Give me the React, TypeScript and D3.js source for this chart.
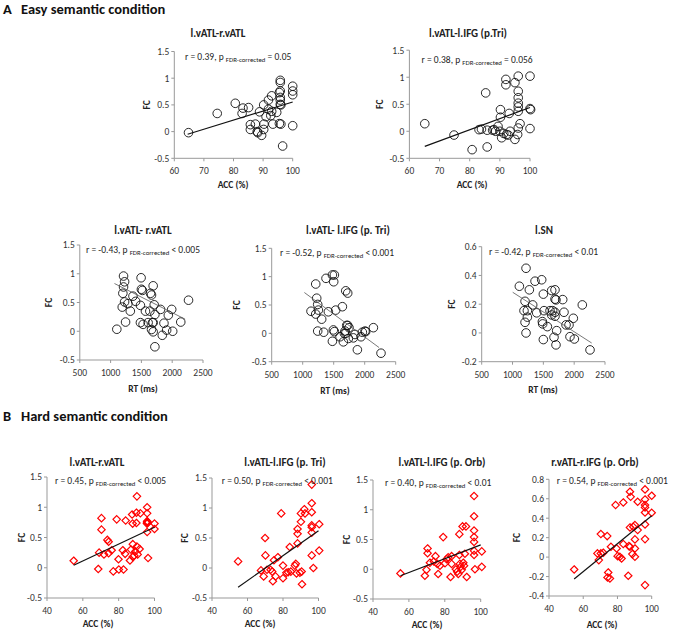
import * as d3 from "d3";

// ---- data: [behaviour, FC] pairs ----
const easyAccAtl: [number, number][] = [
  [64.8, -0.02], [74.5, 0.34], [80.6, 0.53], [83.2, 0.44], [85.1, 0.45], [82.9, 0.34],
  [88.8, 0.37], [85.7, 0.13], [85.7, 0.04], [87.4, 0.14], [88, 0], [88.2, -0.02],
  [89.5, -0.07], [90.2, 0.5], [90.3, 0.14], [90.2, 0.04], [91, 0.28], [91.8, 0.59],
  [91.8, 0.42], [92.6, 0.3], [92.9, 0.38], [92.9, 0.67], [93.3, 0.14], [94.6, 0.36],
  [95.5, 0.73], [95.8, 0.96], [95.8, 0.92], [95.8, 0.76], [95.8, 0.64], [95.8, 0.59],
  [95.8, 0.51], [96, 0.5], [95.5, 0.15], [96, 0.14], [96.6, -0.27], [100, 0.85],
  [100, 0.76], [100, 0.69], [100, 0.11],
];
const easyAccTri: [number, number][] = [
  [65.1, 0.14], [74.8, -0.07], [80.8, -0.34], [85.3, 0.71], [85.8, -0.29], [83.1, 0.03],
  [83.9, 0.04], [85.8, 0.02], [87.6, 0.02], [88.1, 0.03], [88.6, 0], [89.4, 0.09],
  [90, 0], [90.2, 0.4], [90.2, 0.26], [90.6, -0.12], [91.3, -0.04], [92, 0.96],
  [92, 0.86], [92.2, -0.06], [92.8, -0.07], [93.1, 0.33], [93.4, 0], [95, 0.9],
  [95, -0.15], [95.9, -0.06], [96.1, 1.02], [96.1, 0.74], [96.1, 0.62], [96.1, 0.52],
  [96.1, 0.45], [96.1, 0.37], [96.1, 0.06], [96.7, 0.14], [100, 1.02], [100, 0.42],
  [100.2, 0.4], [100, 0.05],
];
const easyRtAtl: [number, number][] = [
  [1101, 0.035], [1210, 0.96], [1227, 0.86], [1210, 0.77], [1199, 0.66], [1189, 0.42],
  [1227, 0.51], [1243, 0.16], [1281, 0.48], [1320, 0.35], [1363, 0.61], [1407, 0.52],
  [1484, 0.45], [1495, 0.93], [1500, 0.73], [1516, 0.71], [1484, 0.15], [1527, 0.12],
  [1566, 0.35], [1609, 0.15], [1637, 0.35], [1648, 0.66], [1664, 0.63], [1680, 0.15],
  [1691, 0.15], [1691, 0.79], [1664, 0.03], [1691, -0.01], [1708, 0.46], [1719, 0.29],
  [1719, -0.27], [1811, 0.38], [1839, -0.07], [1866, 0.14], [1910, 0.02], [1937, 0.28],
  [1992, 0.38], [2008, 0], [2139, 0.16], [2265, 0.54],
];
const easyRtTri: [number, number][] = [
  [1134, 0.39], [1210, 0.87], [1226, 0.62], [1242, 0.51], [1253, 0.41], [1210, 0.34],
  [1242, 0.04], [1306, 0.25], [1339, 0.02], [1376, 0.97], [1414, 0.38], [1479, 1.03],
  [1511, 1.03], [1500, 0.91], [1532, 0.41], [1495, 0.06], [1511, 0.03], [1479, -0.14],
  [1602, -0.06], [1640, 0.47], [1656, -0.15], [1672, 0], [1683, 0.04], [1694, 0.75],
  [1726, 0.71], [1710, 0.14], [1726, 0.14], [1694, 0], [1737, -0.09], [1747, 0.1],
  [1817, -0.08], [1844, -0.02], [1882, -0.29], [1941, -0.06], [1962, 0.02], [2005, 0.04],
  [2016, 0.03], [2140, 0.1], [2263, -0.35],
];
const easyRtSn: [number, number][] = [
  [1111, 0.325], [1219, 0.45], [1203, 0.22], [1186, 0.155], [1241, 0.155], [1203, 0.074],
  [1241, 0.11], [1219, 0], [1273, 0.3], [1327, 0.195], [1365, 0.36], [1392, 0.14],
  [1473, 0.37], [1500, 0.27], [1511, 0.155], [1484, 0.079], [1489, 0.063], [1500, -0.046],
  [1565, 0.044], [1608, 0.155], [1635, 0.295], [1651, 0.155], [1635, 0.125], [1689, 0.3],
  [1689, 0.235], [1705, 0.23], [1689, 0.144], [1689, 0.116], [1673, -0.03], [1716, 0.016],
  [1705, -0.083], [1814, 0.232], [1835, 0.144], [1868, 0.056], [1916, 0.056], [1932, -0.026],
  [1986, 0.102], [2003, -0.042], [2132, 0.195], [2257, -0.118],
];
const hardAccAtl: [number, number][] = [
  [54.9, 0.116], [68.6, -0.02], [69.1, 0.25], [70.4, 0.82], [70.4, 0.63], [71.8, 0.22],
  [73.7, 0.46], [74.4, 0.43], [74.4, 0.24], [76.1, 0.29], [77, -0.06], [78.9, 0.8],
  [79.9, 0.14], [80.1, -0.03], [82.3, 0.29], [82.7, -0.03], [83.6, 0.23], [83.9, 0.78],
  [86.3, 0.12], [86.9, 0.3], [87.5, 0.88], [87.8, 0.73], [87.9, 0.39], [87.9, 0.18],
  [88.7, 0.2], [89.3, 0.27], [89.9, 0.91], [89.9, 0.74], [90.2, 1.18], [90.2, 0.35],
  [90.6, 0.22], [91.7, 0.31], [92.1, 0.9], [95.9, 1.0], [95.9, 0.9], [95.9, 0.77],
  [95.9, 0.75], [96.1, 0.74], [95.8, 0.73], [96, 0.76], [95.9, 0.59], [96.4, 0.16],
  [100, 0.73], [100, 0.64],
];
const hardAccTri: [number, number][] = [
  [54.7, 0.11], [67.6, -0.04], [69.1, -0.14], [69.9, 0.5], [70.1, 0.21], [71, -0.03],
  [73, -0.03], [73.9, -0.06], [74.3, -0.22], [74.9, 0.13], [75.8, -0.14], [77.1, 0.18],
  [79, 0.91], [80, 0.04], [80, -0.17], [81.9, -0.08], [82.9, -0.07], [83.8, 0.35],
  [84.4, -0.06], [86.7, 0.04], [87.2, 0.07], [87.6, -0.09], [88.2, 0.41], [88.2, 0.65],
  [88.2, 0.57], [89.5, -0.08], [90.1, 0.77], [90.1, 0.91], [90.5, -0.06], [90.7, -0.27],
  [92, 0.98], [92.4, 0.91], [96.2, 1.39], [96.2, 1.08], [96.2, 0.93], [96.2, 0.71],
  [96.2, 0.68], [96.2, 0.59], [96.2, 0.21], [97.1, 0], [100.4, 0.73], [100.4, 0.29],
];
const hardAccOrb: [number, number][] = [
  [55.3, -0.07], [68.9, -0.11], [69.8, -0.01], [70.4, 0.35], [70.4, 0.27], [71.7, 0.11],
  [73.9, 0.13], [74.8, 0.22], [75.8, 0.09], [76.3, -0.08], [77.3, 0.06], [79.1, 0.54],
  [80.1, 0.1], [81, 0.17], [81.9, 0.2], [83.2, -0.13], [83.8, 0.22], [83.8, 0.09],
  [86.2, 0], [86.9, -0.04], [87.5, -0.08], [88.1, 0.59], [88.1, 0.24], [88.4, 0.09],
  [88.8, 0.04], [89.4, -0.01], [89.9, 0.72], [90.3, 0.11], [90.7, 0.06], [91.2, 0.26],
  [91.8, 0.72], [92.2, -0.13], [96.3, 1.23], [96.3, 0.89], [96.3, 0.65], [96.3, 0.54],
  [96.3, 0.46], [96.3, 0.31], [96.3, 0.24], [96.8, 0], [100.6, 0.3], [100.6, 0.04],
];
const hardAccROrb: [number, number][] = [
  [54.7, -0.127], [68.3, 0.038], [69.1, -0.031], [70.3, 0.237], [70.3, 0.038], [71.7, 0.045],
  [74, 0.216], [74.2, -0.209], [74.6, -0.158], [75.6, -0.219], [76.2, 0.106], [78.9, 0.535],
  [79.5, 0.089], [80.1, 0.01], [81.4, 0.003], [82.4, -0.014], [83.4, 0.562], [83.4, 0.134],
  [86.3, -0.192], [86.7, 0.113], [87.3, 0.106], [87.3, 0.305], [87.3, 0.672], [87.7, 0.62],
  [88.7, 0.031], [89.2, 0.312], [90.2, 0.329], [90.2, 0.182], [90.2, 0.089], [90.2, 0.003],
  [91.8, 0.569], [91.8, 0.278], [96.1, 0.696], [96.1, 0.593], [96.1, 0.535], [96.1, 0.511],
  [96.1, 0.459], [96.1, 0.336], [96.1, 0.185], [96.1, -0.288], [100, 0.631], [100, 0.456],
];

// fitted line end points
const trendEasyAccAtl: [number, number][] = [[64.5, -0.05], [100, 0.555]];
const trendEasyAccTri: [number, number][] = [[65.1, -0.28], [100, 0.44]];
const trendEasyRtAtl: [number, number][] = [[1063, 0.83], [2210, 0.21]];
const trendEasyRtTri: [number, number][] = [[1027, 0.72], [2231, -0.25]];
const trendEasyRtSn: [number, number][] = [[1003, 0.283], [2284, -0.07]];
const trendHardAtl: [number, number][] = [[54.9, 0.04], [100, 0.67]];
const trendHardTri: [number, number][] = [[54.7, -0.32], [100, 0.62]];
const trendHardOrb: [number, number][] = [[55.3, -0.11], [100, 0.41]];
const trendHardROrb: [number, number][] = [[54.7, -0.226], [100, 0.425]];

// ticks
const accTicksEasy = [60, 70, 80, 90, 100];
const accTicksHard = [40, 60, 80, 100];
const rtTicks = [500, 1000, 1500, 2000, 2500];
const fcTicks = [-0.5, 0, 0.5, 1, 1.5];
const snTicks = [-0.2, 0, 0.2, 0.4, 0.6];
const rOrbTicks = [-0.4, -0.2, 0, 0.2, 0.4, 0.6, 0.8];

const FONT = "Carlito, Lato, 'Liberation Sans', sans-serif";
const TEXT = "#333";

type Panel = {
  title: string;
  pts: [number, number][];
  trend: [number, number][];
  xTicks: number[];
  yTicks: number[];
  xPx: [number, number];
  yPx: [number, number];
  marker: "circle" | "diamond";
  thinLine?: boolean;
  stat: [string, string];
  statPos: [number, number];
  titlePos: [number, number];
  xLabel: string;
  xLabelPos: [number, number];
  yLabelX: number;
};

const panels: Panel[] = [
  {
    title: "l.vATL-r.vATL", pts: easyAccAtl, trend: trendEasyAccAtl,
    xTicks: accTicksEasy, yTicks: fcTicks, xPx: [174.3, 292.7], yPx: [158.3, 51.5],
    marker: "circle", stat: ["r = 0.39, p ", " = 0.05"], statPos: [185, 60],
    titlePos: [218, 37], xLabel: "ACC (%)", xLabelPos: [233, 188], yLabelX: 146,
  },
  {
    title: "l.vATL-l.IFG (p.Tri)", pts: easyAccTri, trend: trendEasyAccTri,
    xTicks: accTicksEasy, yTicks: fcTicks, xPx: [409.4, 530], yPx: [158.3, 50.2],
    marker: "circle", stat: ["r = 0.38, p ", " = 0.056"], statPos: [421.5, 63],
    titlePos: [468, 37], xLabel: "ACC (%)", xLabelPos: [472, 188], yLabelX: 379,
  },
  {
    title: "l.vATL- r.vATL", pts: easyRtAtl, trend: trendEasyRtAtl, thinLine: true,
    xTicks: rtTicks, yTicks: fcTicks, xPx: [79.8, 203], yPx: [360, 245],
    marker: "circle", stat: ["r = -0.43, p ", " < 0.005"], statPos: [86, 253],
    titlePos: [143, 234], xLabel: "RT (ms)", xLabelPos: [143, 392], yLabelX: 48,
  },
  {
    title: "l.vATL- l.IFG (p. Tri)", pts: easyRtTri, trend: trendEasyRtTri, thinLine: true,
    xTicks: rtTicks, yTicks: fcTicks, xPx: [271.7, 395.7], yPx: [361.7, 248.3],
    marker: "circle", stat: ["r = -0.52, p ", " < 0.001"], statPos: [280, 256],
    titlePos: [348, 234], xLabel: "RT (ms)", xLabelPos: [335, 394], yLabelX: 236,
  },
  {
    title: "l.SN", pts: easyRtSn, trend: trendEasyRtSn, thinLine: true,
    xTicks: rtTicks, yTicks: snTicks, xPx: [481.7, 605], yPx: [361.7, 246.7],
    marker: "circle", stat: ["r = -0.42, p ", " < 0.01"], statPos: [489, 255],
    titlePos: [544, 234], xLabel: "RT (ms)", xLabelPos: [543, 393], yLabelX: 451,
  },
  {
    title: "l.vATL-r.vATL", pts: hardAccAtl, trend: trendHardAtl,
    xTicks: accTicksHard, yTicks: fcTicks, xPx: [47, 154.5], yPx: [598, 477],
    marker: "diamond", stat: ["r = 0.45, p ", " < 0.005"], statPos: [55, 484],
    titlePos: [97, 466], xLabel: "ACC (%)", xLabelPos: [98, 627], yLabelX: 21,
  },
  {
    title: "l.vATL-l.IFG (p. Tri)", pts: hardAccTri, trend: trendHardTri,
    xTicks: accTicksHard, yTicks: fcTicks, xPx: [212, 318.5], yPx: [598, 478],
    marker: "diamond", stat: ["r = 0.50, p ", " < 0.001"], statPos: [221.7, 484],
    titlePos: [285, 466], xLabel: "ACC (%)", xLabelPos: [260, 627], yLabelX: 184,
  },
  {
    title: "l.vATL-l.IFG (p. Orb)", pts: hardAccOrb, trend: trendHardOrb,
    xTicks: accTicksHard, yTicks: fcTicks, xPx: [373, 480.7], yPx: [599, 480],
    marker: "diamond", stat: ["r = 0.40, p ", " < 0.01"], statPos: [385, 486],
    titlePos: [442, 466], xLabel: "ACC (%)", xLabelPos: [427, 628], yLabelX: 346,
  },
  {
    title: "r.vATL-r.IFG (p. Orb)", pts: hardAccROrb, trend: trendHardROrb,
    xTicks: accTicksHard, yTicks: rOrbTicks, xPx: [549, 651.7], yPx: [596, 479.3],
    marker: "diamond", stat: ["r = 0.54, p ", " < 0.001"], statPos: [556.7, 484],
    titlePos: [595, 466], xLabel: "ACC (%)", xLabelPos: [602, 628], yLabelX: 516,
  },
];

const fmt = (v: number) => String(+v.toFixed(2));

function Scatter({ p }: { p: Panel }) {
  const xDom = d3.extent(p.xTicks) as [number, number];
  const yDom = d3.extent(p.yTicks) as [number, number];
  const x = d3.scaleLinear().domain(xDom).range(p.xPx);
  const y = d3.scaleLinear().domain(yDom).range(p.yPx);
  const [ax0, ax1] = p.xPx;
  const [yb, yt] = p.yPx;
  const line = d3
    .line<[number, number]>()
    .x((d) => x(d[0]))
    .y((d) => y(d[1]));
  const dr = 3.7;

  return (
    <g fontFamily={FONT}>
      <text x={p.titlePos[0]} y={p.titlePos[1]} textAnchor="middle" fontSize={11} fontWeight="bold" fill="#222">
        {p.title}
      </text>
      {/* axes */}
      <line x1={ax0} x2={ax0} y1={yt} y2={yb} stroke="#999" strokeWidth={1} />
      <line x1={ax0} x2={ax1} y1={yb} y2={yb} stroke="#999" strokeWidth={1} />
      {p.yTicks.map((t) => (
        <g key={"y" + t}>
          <line x1={ax0 - 3} x2={ax0} y1={y(t)} y2={y(t)} stroke="#999" />
          <text x={ax0 - 5} y={y(t) + 3.3} textAnchor="end" fontSize={9.5} fill={TEXT}>
            {fmt(t)}
          </text>
        </g>
      ))}
      {p.xTicks.map((t) => (
        <g key={"x" + t}>
          <line x1={x(t)} x2={x(t)} y1={yb} y2={yb + 3} stroke="#999" />
          <text x={x(t)} y={yb + 16} textAnchor="middle" fontSize={9.5} fill={TEXT}>
            {t}
          </text>
        </g>
      ))}
      <text x={p.xLabelPos[0]} y={p.xLabelPos[1]} textAnchor="middle" fontSize={9.5} fontWeight="bold" fill="#222">
        {p.xLabel}
      </text>
      <text
        transform={`translate(${p.yLabelX},${(yt + yb) / 2}) rotate(-90)`}
        textAnchor="middle"
        dy={3.5}
        fontSize={9.5}
        fontWeight="bold"
        fill="#222"
      >
        FC
      </text>
      {/* markers */}
      {p.pts.map((d, i) =>
        p.marker === "circle" ? (
          <circle key={i} cx={x(d[0])} cy={y(d[1])} r={4.3} fill="none" stroke="#111" strokeWidth={0.9} />
        ) : (
          <path
            key={i}
            transform={`translate(${x(d[0])},${y(d[1])})`}
            d={`M0,${-dr}L${dr},0L0,${dr}L${-dr},0Z`}
            fill="none"
            stroke="#f00"
            strokeWidth={1.2}
          />
        )
      )}
      <path
        d={line(p.trend) ?? ""}
        fill="none"
        stroke={p.thinLine ? "#555" : "#111"}
        strokeWidth={p.thinLine ? 0.8 : 1.2}
      />
      <text x={p.statPos[0]} y={p.statPos[1]} fontSize={9.5} fill="#222" style={{ whiteSpace: "pre" }}>
        {p.stat[0]}
        <tspan fontSize={6.8} dy={2}>FDR-corrected</tspan>
        <tspan fontSize={9.5} dy={-2}>{p.stat[1]}</tspan>
      </text>
    </g>
  );
}

export default function App() {
  return (
    <div style={{ position: "absolute", left: 0, top: 0 }}>
      <svg width={676} height={633} style={{ display: "block", background: "#fff" }}>
        <g fontFamily={FONT} fontWeight="bold" fontSize={14.5} fill="#111">
          <text x={3} y={14}>A</text>
          <text x={21} y={14}>Easy semantic condition</text>
          <text x={3} y={421}>B</text>
          <text x={21} y={421}>Hard semantic condition</text>
        </g>
        {panels.map((p, i) => (
          <Scatter key={i} p={p} />
        ))}
      </svg>
    </div>
  );
}
